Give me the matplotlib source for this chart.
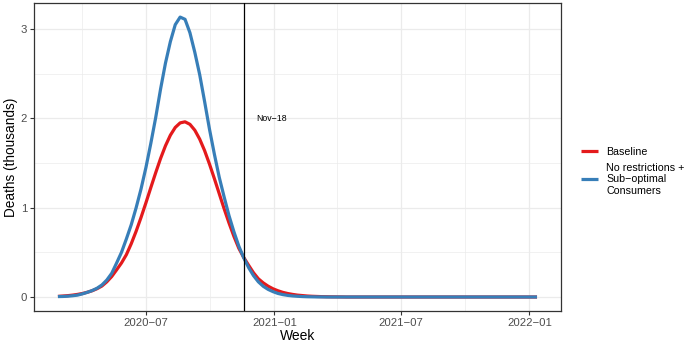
import numpy as np
import pandas as pd
import matplotlib
matplotlib.use("Agg")
import matplotlib.pyplot as plt
import matplotlib.dates as mdates

plt.rcParams['font.family'] = ['Liberation Sans', 'DejaVu Sans']

# weekly series (Wednesdays), deaths in thousands
start_week = '2020-02-26'
n_weeks = 99

baseline = [0.007, 0.011, 0.015, 0.021, 0.029, 0.039, 0.053, 0.070, 0.093, 0.123,
            0.170, 0.229, 0.304, 0.381, 0.474, 0.597, 0.737, 0.891, 1.055, 1.225,
            1.392, 1.552, 1.694, 1.812, 1.899, 1.950, 1.962, 1.934, 1.868, 1.768,
            1.640, 1.489, 1.326, 1.157, 0.988, 0.828, 0.679, 0.546, 0.443, 0.356,
            0.272, 0.204, 0.158, 0.121, 0.092, 0.070, 0.052, 0.039, 0.029, 0.021,
            0.016, 0.011, 0.008, 0.006, 0.004, 0.003, 0.002, 0.0015, 0.001, 0.0,
            0.0, 0.0, 0.0, 0.0, 0.0, 0.0, 0.0, 0.0, 0.0, 0.0,
            0.0, 0.0, 0.0, 0.0, 0.0, 0.0, 0.0, 0.0, 0.0, 0.0,
            0.0, 0.0, 0.0, 0.0, 0.0, 0.0, 0.0, 0.0, 0.0, 0.0,
            0.0, 0.0, 0.0, 0.0, 0.0, 0.0, 0.0, 0.0, 0.0]

no_restrictions = [0.005, 0.006, 0.009, 0.014, 0.021, 0.035, 0.052, 0.072, 0.098, 0.135,
                   0.190, 0.265, 0.380, 0.500, 0.650, 0.810, 1.000, 1.210, 1.450, 1.720,
                   2.010, 2.330, 2.620, 2.860, 3.050, 3.135, 3.110, 2.960, 2.740, 2.490,
                   2.190, 1.880, 1.600, 1.340, 1.120, 0.910, 0.730, 0.570, 0.440, 0.330,
                   0.240, 0.170, 0.120, 0.085, 0.060, 0.040, 0.027, 0.018, 0.012, 0.008,
                   0.005, 0.003, 0.002, 0.001, 0.001, 0.0, 0.0, 0.0, 0.0, 0.0,
                   0.0, 0.0, 0.0, 0.0, 0.0, 0.0, 0.0, 0.0, 0.0, 0.0,
                   0.0, 0.0, 0.0, 0.0, 0.0, 0.0, 0.0, 0.0, 0.0, 0.0,
                   0.0, 0.0, 0.0, 0.0, 0.0, 0.0, 0.0, 0.0, 0.0, 0.0,
                   0.0, 0.0, 0.0, 0.0, 0.0, 0.0, 0.0, 0.0, 0.0]

series_labels = ['Baseline', 'No restrictions +\nSub\u2212optimal\nConsumers']
series_colors = ['#E41A1C', '#377EB8']

marker_date = '2020-11-18'
marker_label = 'Nov\u221218'
marker_label_date = '2020-12-28'
marker_label_y = 2

x_ticks = ['2020-07-01', '2021-01-01', '2021-07-01', '2022-01-01']
x_minor = ['2020-04-01', '2020-10-01', '2021-04-01', '2021-10-01']
x_ticklabels = ['2020\u221207', '2021\u221201', '2021\u221207', '2022\u221201']

weeks = pd.date_range(start_week, periods=n_weeks, freq='7D')

fig = plt.figure(figsize=(6.89, 3.43), dpi=100)
ax = fig.add_axes([0.0493, 0.0933, 0.8142 - 0.0493, 0.991 - 0.0933])

lines = []
for vals, lab, col in zip([baseline, no_restrictions], series_labels, series_colors):
    l, = ax.plot(weeks, vals, color=col, lw=2.3, label=lab, solid_capstyle='butt',
                 solid_joinstyle='round', zorder=3)
    lines.append(l)

ax.axvline(pd.Timestamp(marker_date), color='black', lw=0.9, zorder=4)
ax.text(pd.Timestamp(marker_label_date), marker_label_y, marker_label, fontsize=6.3,
        ha='center', va='center', color='black')

# ggplot-like 5% expansion
x0, x1 = mdates.date2num(weeks[0]), mdates.date2num(weeks[-1])
pad = (x1 - x0) * 0.05
ax.set_xlim(x0 - pad, x1 + pad)
ymax = max(max(baseline), max(no_restrictions))
ax.set_ylim(-ymax * 0.05, ymax * 1.05)

ax.set_xticks([pd.Timestamp(d) for d in x_ticks])
ax.set_xticklabels(x_ticklabels)
ax.set_xticks([pd.Timestamp(d) for d in x_minor], minor=True)
ax.set_yticks([0, 1, 2, 3])
ax.set_yticks([0.5, 1.5, 2.5], minor=True)

ax.grid(which='major', color='#EBEBEB', lw=0.9, zorder=0)
ax.grid(which='minor', color='#EBEBEB', lw=0.5, zorder=0)
ax.set_axisbelow(True)
for s in ax.spines.values():
    s.set_color('#333333')
    s.set_linewidth(0.9)
ax.tick_params(which='major', length=3, color='#333333', labelsize=8.2,
               labelcolor='#4D4D4D', width=0.8, pad=2)
ax.tick_params(which='minor', length=0)

ax.set_xlabel('Week', fontsize=10, labelpad=1)
ax.set_ylabel('Deaths (thousands)', fontsize=9.8, labelpad=2)

fig.legend(handles=lines, loc='center left', bbox_to_anchor=(0.843, 0.5),
           frameon=False, fontsize=7.7, handlelength=1.6, handletextpad=0.8,
           labelspacing=0.5, borderpad=0, borderaxespad=0)

fig.savefig('out.png', dpi=100)
